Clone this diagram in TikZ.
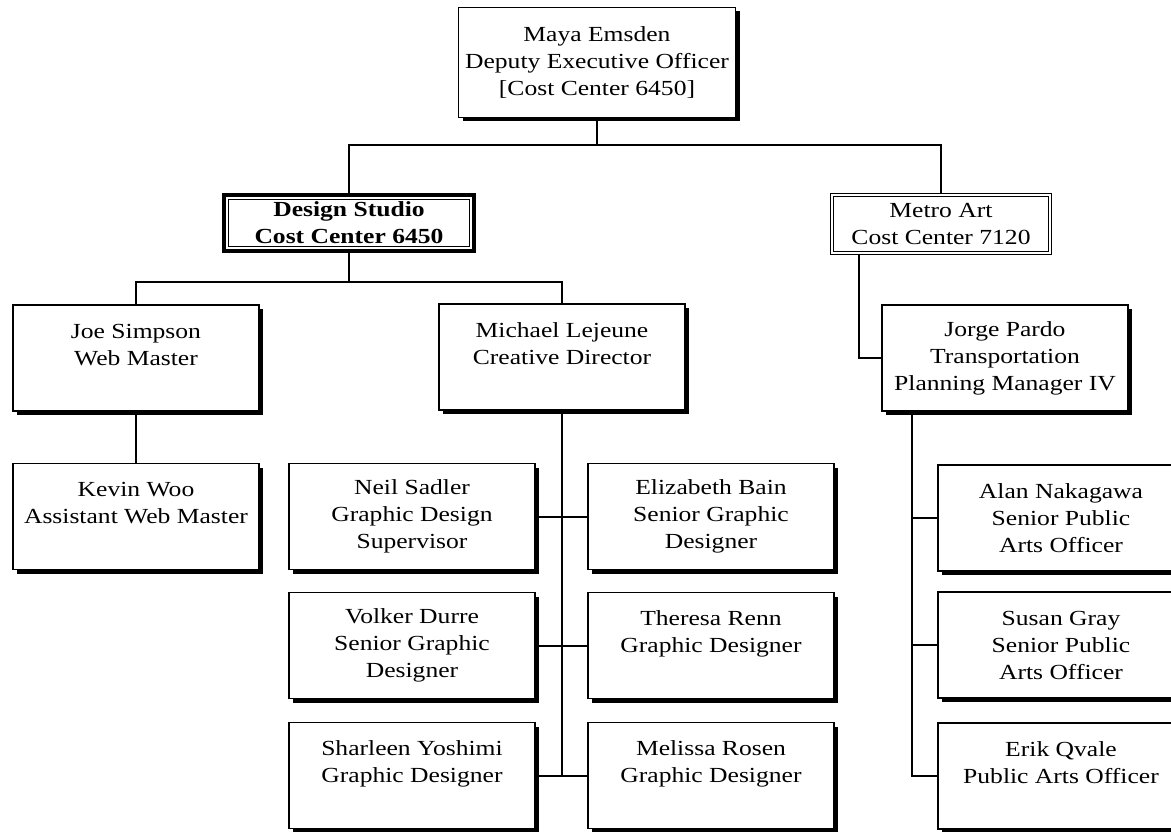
\documentclass[tikz,border=0pt]{standalone}
\usepackage{fontspec}
\setmainfont{Liberation Serif}[FakeStretch=1.19]
\usetikzlibrary{shadows}

\tikzset{
	chart font/.style={font=\fontsize{21.5}{27}\selectfont},
	person/.style={draw, fill=white, line width=1.4pt, chart font, align=center,
		inner sep=0pt, minimum width=246pt, minimum height=106pt,
		drop shadow={shadow xshift=4pt, shadow yshift=-4pt, fill=black, opacity=1}},
	unit/.style={draw, fill=white, double, double distance=1.8pt, line width=1.3pt,
		chart font, align=center, inner sep=0pt, minimum width=218pt, minimum height=58pt,
		drop shadow={shadow xshift=2pt, shadow yshift=-2pt, fill=black, opacity=1}},
	studio/.style={draw, fill=white, line width=3.5pt, font=\fontsize{21.5}{27}\selectfont\bfseries,
		align=center, inner sep=0pt, minimum width=250pt, minimum height=56pt,
		drop shadow={shadow xshift=2pt, shadow yshift=-2pt, fill=black, opacity=1}},
	link/.style={line width=2pt},
}

\begin{document}
\begin{tikzpicture}[x=1pt, y=-1pt]
	\useasboundingbox (0,0) rectangle (1171,832);
	\clip (0,0) rectangle (1171,832);
	
	% Deputy Executive Officer
	\node[person, minimum width=277pt, minimum height=110pt] (maya) at (597,62.5)
		{Maya Emsden\\Deputy Executive Officer\\{[}Cost Center 6450{]}};
	
	% Cost centers
	\node[studio] (studio) at (349,223) {Design Studio\\Cost Center 6450};
	\draw[line width=1.2pt] ([xshift=6pt,yshift=6pt]studio.south west) rectangle ([xshift=-6pt,yshift=-6pt]studio.north east);
	\node[unit] (metro) at (941,224) {Metro Art\\Cost Center 7120};
	
	% Design Studio staff
	\node[person] (joe) at (136,358) {Joe Simpson\\Web Master\\\mbox{}};
	\node[person] (michael) at (562,357) {Michael Lejeune\\Creative Director\\\mbox{}};
	\node[person] (kevin) at (136,516.5) {Kevin Woo\\Assistant Web Master\\\mbox{}};
	
	\node[person] (neil) at (412,516.5) {Neil Sadler\\Graphic Design\\Supervisor};
	\node[person] (elizabeth) at (711,516.5) {Elizabeth Bain\\Senior Graphic\\Designer};
	\node[person] (volker) at (412,645.5) {Volker Durre\\Senior Graphic\\Designer};
	\node[person] (theresa) at (711,645.5) {Theresa Renn\\Graphic Designer\\\mbox{}};
	\node[person] (sharleen) at (412,775.5) {Sharleen Yoshimi\\Graphic Designer\\\mbox{}};
	\node[person] (melissa) at (711,775.5) {Melissa Rosen\\Graphic Designer\\\mbox{}};
	
	% Metro Art staff
	\node[person] (jorge) at (1005,358) {Jorge Pardo\\Transportation\\Planning Manager IV};
	\node[person] (alan) at (1061,518) {Alan Nakagawa\\Senior Public\\Arts Officer};
	\node[person] (susan) at (1061,645) {Susan Gray\\Senior Public\\Arts Officer};
	\node[person] (erik) at (1061,776) {Erik Qvale\\Public Arts Officer\\\mbox{}};
	
	% Top level
	\coordinate (top bus) at (597,145);
	\draw[link] (maya.south) -- (top bus);
	\draw[link] (studio.north) |- (top bus) -| (metro.north);
	
	% Design Studio
	\coordinate (studio bus) at (349,282);
	\draw[link] (studio.south) -- (studio bus);
	\draw[link] (joe.north) |- (studio bus) -| (michael.north);
	\draw[link] (joe.south) -- (kevin.north);
	
	% Creative team
	\draw[link] (michael.south) -- (michael.south |- sharleen.east);
	\foreach \l/\r in {neil/elizabeth, volker/theresa, sharleen/melissa} {
		\draw[link] (\l.east) -- (\r.west);
	}
	
	% Metro Art
	\draw[link] ([xshift=28pt]metro.south west) |- (jorge.west);
	\coordinate (metro bus) at ([xshift=31pt]jorge.south west);
	\draw[link] (metro bus) |- (erik.west);
	\foreach \n in {alan, susan} {
		\draw[link] (\n.west) -- (\n.west -| metro bus);
	}
\end{tikzpicture}
\end{document}
